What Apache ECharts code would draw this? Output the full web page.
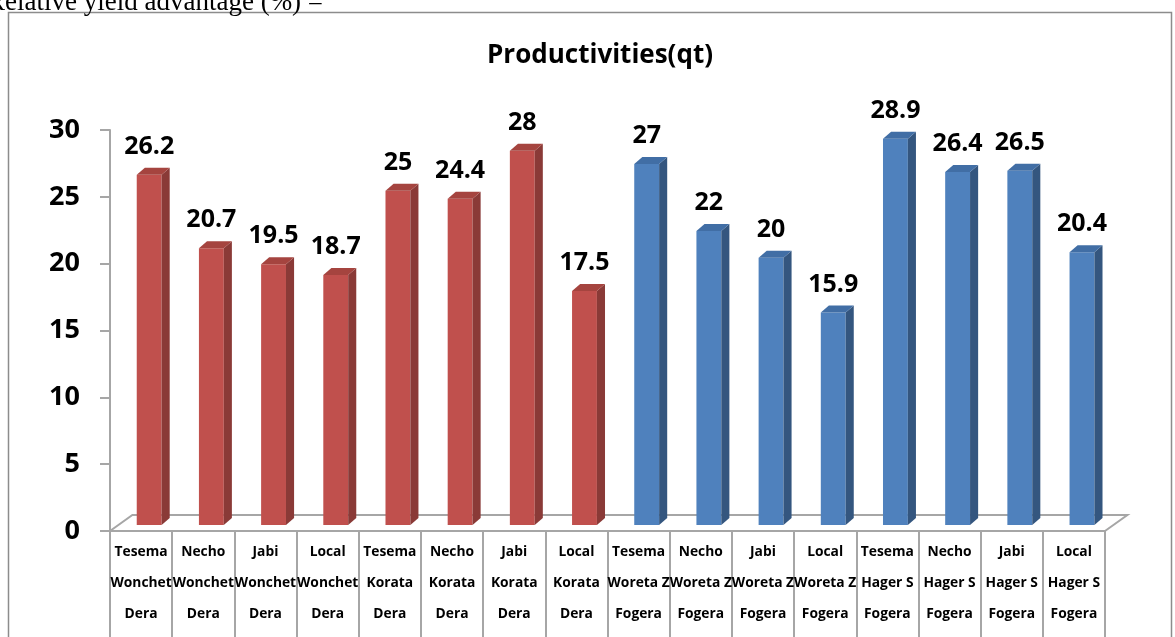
<!DOCTYPE html>
<html>
<head>
<meta charset="utf-8">
<script src="https://cdn.jsdelivr.net/npm/echarts@6/dist/echarts.min.js"></script>
<style>
  html, body { margin: 0; padding: 0; background: #fff; }
  #chart { width: 1175px; height: 637px; }
</style>
</head>
<body>
<div id="chart"></div>
<script>
// categories: variety / kebele / district
const varieties = ['Tesema', 'Necho', 'Jabi', 'Local', 'Tesema', 'Necho', 'Jabi', 'Local',
  'Tesema', 'Necho', 'Jabi', 'Local', 'Tesema', 'Necho', 'Jabi', 'Local'];
const sites = ['Wonchet', 'Wonchet', 'Wonchet', 'Wonchet', 'Korata', 'Korata', 'Korata', 'Korata',
  'Woreta Z', 'Woreta Z', 'Woreta Z', 'Woreta Z', 'Hager S', 'Hager S', 'Hager S', 'Hager S'];
const districts = ['Dera', 'Dera', 'Dera', 'Dera', 'Dera', 'Dera', 'Dera', 'Dera',
  'Fogera', 'Fogera', 'Fogera', 'Fogera', 'Fogera', 'Fogera', 'Fogera', 'Fogera'];

// productivity in quintals
const productivity = [26.2, 20.7, 19.5, 18.7, 25, 24.4, 28, 17.5,
  27, 22, 20, 15.9, 28.9, 26.4, 26.5, 20.4];

const yTicks = { min: 0, max: 30, interval: 5 };

const categories = varieties.map((v, i) => v + '\n' + sites[i] + '\n' + districts[i]);

const palettes = {
  Dera: { front: '#C0504D', side: '#8A3A37', top: '#A5443F' },
  Fogera: { front: '#4F81BD', side: '#34567F', top: '#416EA5' }
};

const FONT = '"Open Sans", "Noto Sans", sans-serif';
const GRID_COLOR = '#a6a6a6';

const chart = echarts.init(document.getElementById('chart'));

function renderBar(params, api) {
  const idx = api.value(0);
  const val = api.value(1);
  const base = api.coord([idx, 0]);
  const topPt = api.coord([idx, val]);
  const band = api.size([1, 0])[0];
  const w = band * 0.4;
  const dx = band * 0.13;
  const dy = 7;
  // bars sit a little back on the floor
  const cx = base[0] + band * 0.13;
  const y0 = base[1] - 6;
  const y1 = topPt[1] - 6;
  const l = cx - w / 2;
  const r = cx + w / 2;
  const pal = palettes[districts[idx]];
  return {
    type: 'group',
    children: [
      { type: 'rect', shape: { x: l, y: y1, width: w, height: y0 - y1 }, style: { fill: pal.front } },
      { type: 'polygon', shape: { points: [[r, y1], [r + dx, y1 - dy], [r + dx, y0 - dy], [r, y0]] }, style: { fill: pal.side } },
      { type: 'polygon', shape: { points: [[l, y1], [l + dx, y1 - dy], [r + dx, y1 - dy], [r, y1]] }, style: { fill: pal.top } },
      {
        type: 'text',
        style: {
          text: String(val), x: cx, y: y1 - dy - 21,
          align: 'center', verticalAlign: 'middle',
          font: 'bold 25px ' + FONT, fill: '#000'
        }
      }
    ]
  };
}

function renderFloor(params, api) {
  const band = api.size([1, 0])[0];
  const a = api.coord([0, 0]);
  const b = api.coord([productivity.length - 1, 0]);
  const x0 = a[0] - band / 2;
  const x1 = b[0] + band / 2;
  const y = a[1];
  const ddx = band * 0.36;
  const ddy = 16;
  return {
    type: 'polyline',
    shape: { points: [[x0, y], [x0 + ddx, y - ddy], [x1 + ddx, y - ddy], [x1, y]] },
    style: { stroke: GRID_COLOR, lineWidth: 2, fill: null },
    z2: 0
  };
}

const option = {
  backgroundColor: '#fff',
  animation: false,
  title: {
    text: 'Productivities(qt)',
    left: 595,
    textAlign: 'center',
    top: 38,
    textStyle: { fontFamily: FONT, fontSize: 26, fontWeight: 'bold', color: '#000' }
  },
  graphic: [
    {
      type: 'rect',
      shape: { x: 8.5, y: 12.5, width: 1163, height: 700 },
      style: { stroke: '#8c8c8c', lineWidth: 1.5, fill: null },
      silent: true
    },
    {
      type: 'text',
      left: -13,
      top: -11,
      style: { text: 'Relative yield advantage (%) =', font: '27px "Liberation Serif", serif', fill: '#000' }
    }
  ],
  grid: { left: 110, right: 70, top: 130, bottom: 106 },
  xAxis: {
    type: 'category',
    data: categories,
    axisLine: { show: true, lineStyle: { color: GRID_COLOR, width: 2 } },
    axisTick: { show: true, length: 110, lineStyle: { color: GRID_COLOR, width: 2 } },
    axisLabel: {
      interval: 0, margin: 6, lineHeight: 31,
      fontFamily: FONT, fontSize: 13.8, fontWeight: 'bold', color: '#000'
    }
  },
  yAxis: {
    type: 'value',
    min: yTicks.min,
    max: yTicks.max,
    interval: yTicks.interval,
    axisLine: { show: true, lineStyle: { color: GRID_COLOR, width: 2 } },
    axisTick: { show: true, length: 10, lineStyle: { color: GRID_COLOR, width: 2 } },
    splitLine: { show: false },
    axisLabel: { margin: 30, fontFamily: FONT, fontSize: 27, fontWeight: 'bold', color: '#000' }
  },
  series: [
    {
      type: 'custom',
      name: 'floor',
      data: [[0, 0]],
      renderItem: renderFloor,
      clip: false,
      z: 1,
      silent: true
    },
    {
      type: 'custom',
      name: 'Productivity',
      data: productivity.map((v, i) => [i, v]),
      encode: { x: 0, y: 1 },
      renderItem: renderBar,
      clip: false,
      z: 2
    }
  ]
};

chart.setOption(option);
</script>
</body>
</html>
